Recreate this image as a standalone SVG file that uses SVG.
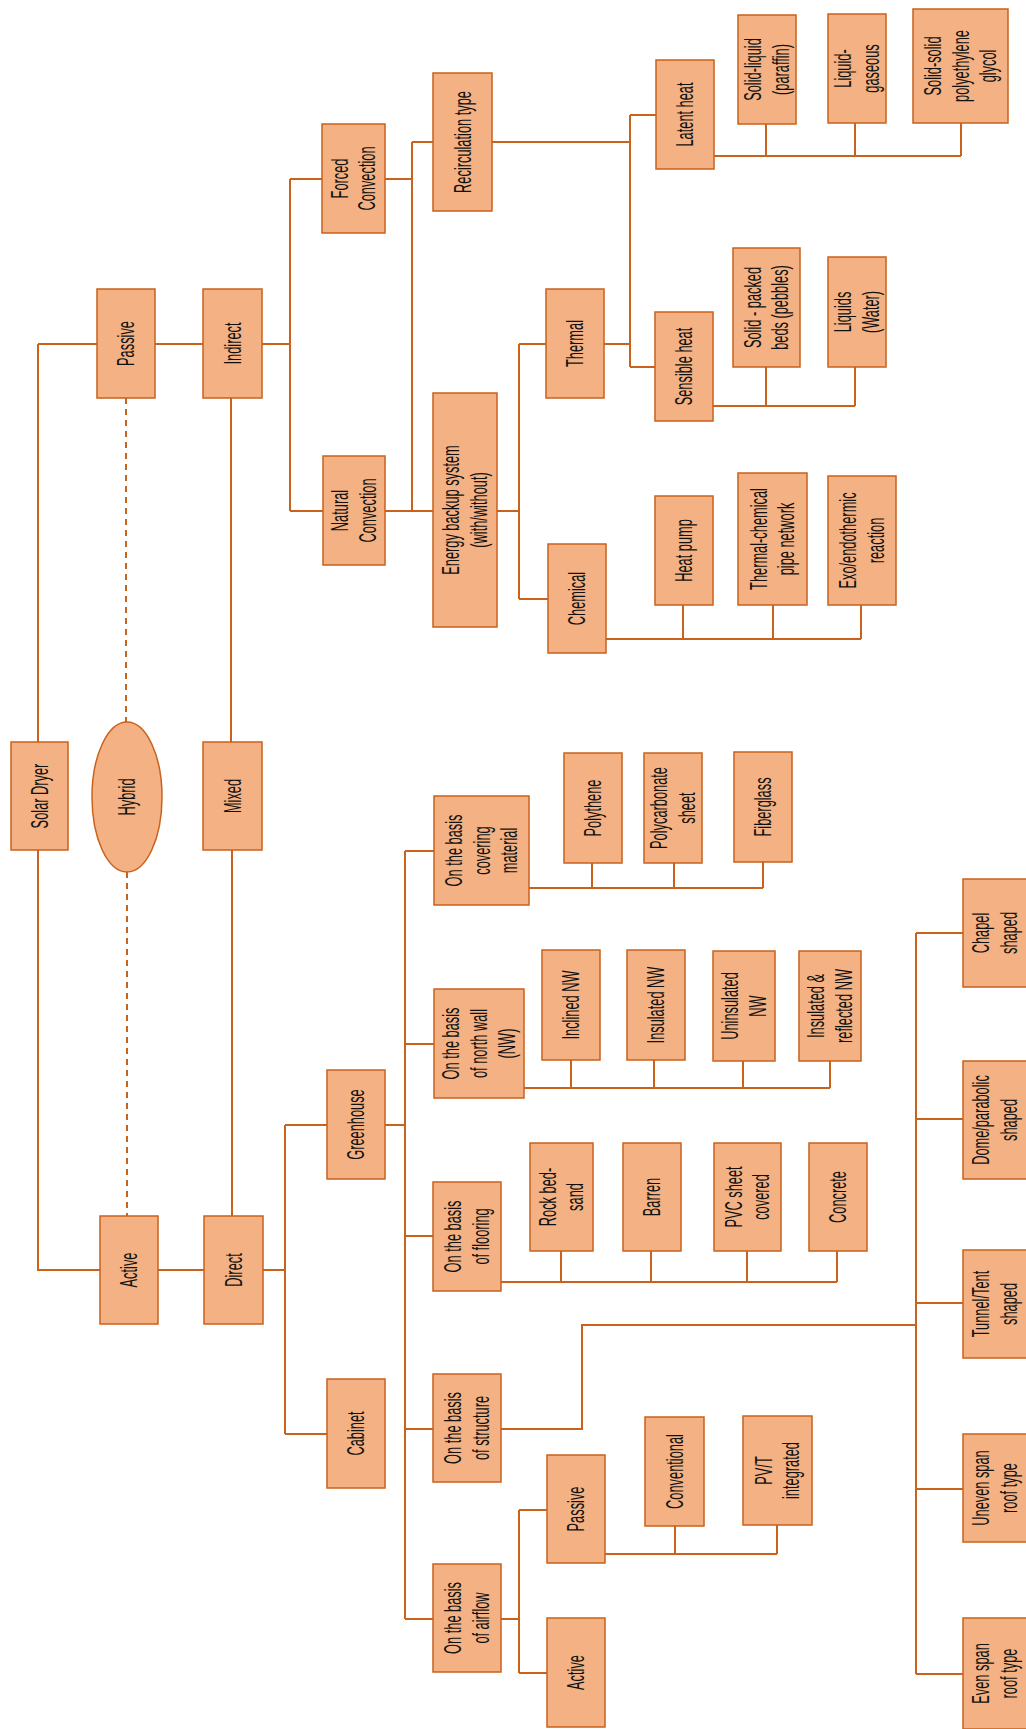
<svg xmlns="http://www.w3.org/2000/svg" width="1026" height="1729" viewBox="0 0 1026 1729">
<style>
.b{fill:#F4B183;stroke:#C9621C;stroke-width:1.5}
.c{fill:none;stroke:#C9621C;stroke-width:2}
.d{fill:none;stroke:#C9621C;stroke-width:2;stroke-dasharray:6 5}
text{font-family:"Liberation Sans",Arial,sans-serif;font-size:23px;fill:#111111;text-anchor:middle}
</style>
<rect width="1026" height="1729" fill="#ffffff"/>
<g id="connectors">
<path class="c" d="M38 344V1270H100M38 344H97"/>
<path class="c" d="M155 344H203M262 344H290M290 179V511M290 179H322M290 511H323"/>
<path class="c" d="M385 179H412M385 511H433M412 142V511M412 142H433"/>
<path class="c" d="M492 142H630M630 115V367M630 115H656M630 367H655M604 344H630"/>
<path class="c" d="M497 511H519M519 344V599M519 344H546M519 599H548"/>
<path class="c" d="M714 156H961M766 156V124M855 156V123M961 156V123"/>
<path class="c" d="M713 406H855M766 406V367M855 406V367"/>
<path class="c" d="M606 639H861M683 639V605M773 639V605M861 639V605"/>
<path class="c" d="M231 398V742M232 850V1216"/>
<path class="d" d="M126 398V722M127 872V1216"/>
<path class="c" d="M158 1270H204M263 1270H285M285 1125V1434M285 1125H327M285 1434H327"/>
<path class="c" d="M385 1125H405M405 851V1619M405 851H434M405 1044H434M405 1236H433M405 1429H433M405 1619H433"/>
<path class="c" d="M529 888H763M592 888V863M674 888V863M763 888V862"/>
<path class="c" d="M524 1088H830M571 1088V1060M654 1088V1060M743 1088V1061M830 1088V1061"/>
<path class="c" d="M501 1282H837M561 1282V1251M651 1282V1251M747 1282V1251M837 1282V1251"/>
<path class="c" d="M501 1429H582V1325H916M916 933V1674M916 933H963M916 1119H963M916 1303H963M916 1489H963M916 1674H963"/>
<path class="c" d="M501 1619H519M519 1510V1673M519 1510H547M519 1673H547"/>
<path class="c" d="M605 1554H777M675 1554V1526M777 1554V1525"/>
</g>
<g id="n-solar-dryer"><rect class="b" x="11" y="742" width="57" height="108"/><text transform="translate(39.5 796) rotate(-90) scale(0.557 1)"><tspan x="0" y="8">Solar Dryer</tspan></text></g>
<g id="n-hybrid"><ellipse class="b" cx="127" cy="797" rx="35" ry="75"/><text transform="translate(127 797) rotate(-90) scale(0.557 1)"><tspan x="0" y="8">Hybrid</tspan></text></g>
<g id="n-mixed"><rect class="b" x="203" y="742" width="59" height="108"/><text transform="translate(232.5 796) rotate(-90) scale(0.557 1)"><tspan x="0" y="8">Mixed</tspan></text></g>
<g id="n-passive"><rect class="b" x="97" y="289" width="58" height="109"/><text transform="translate(126 343.5) rotate(-90) scale(0.557 1)"><tspan x="0" y="8">Passive</tspan></text></g>
<g id="n-indirect"><rect class="b" x="203" y="289" width="59" height="109"/><text transform="translate(232.5 343.5) rotate(-90) scale(0.557 1)"><tspan x="0" y="8">Indirect</tspan></text></g>
<g id="n-active"><rect class="b" x="100" y="1216" width="58" height="108"/><text transform="translate(129 1270) rotate(-90) scale(0.557 1)"><tspan x="0" y="8">Active</tspan></text></g>
<g id="n-direct"><rect class="b" x="204" y="1216" width="59" height="108"/><text transform="translate(233.5 1270) rotate(-90) scale(0.557 1)"><tspan x="0" y="8">Direct</tspan></text></g>
<g id="n-forced"><rect class="b" x="322" y="124" width="63" height="109"/><text transform="translate(353.5 178.5) rotate(-90) scale(0.557 1)"><tspan x="0" y="-6">Forced</tspan><tspan x="0" y="22">Convection</tspan></text></g>
<g id="n-natural"><rect class="b" x="323" y="456" width="62" height="109"/><text transform="translate(354 510.5) rotate(-90) scale(0.557 1)"><tspan x="0" y="-6">Natural</tspan><tspan x="0" y="22">Convection</tspan></text></g>
<g id="n-recirculation"><rect class="b" x="433" y="73" width="59" height="138"/><text transform="translate(462.5 142) rotate(-90) scale(0.557 1)"><tspan x="0" y="8">Recirculation type</tspan></text></g>
<g id="n-energy-backup"><rect class="b" x="433" y="393" width="64" height="234"/><text transform="translate(465 510) rotate(-90) scale(0.557 1)"><tspan x="0" y="-6">Energy backup system</tspan><tspan x="0" y="22">(with/without)</tspan></text></g>
<g id="n-latent"><rect class="b" x="656" y="60" width="58" height="109"/><text transform="translate(685 114.5) rotate(-90) scale(0.557 1)"><tspan x="0" y="8">Latent heat</tspan></text></g>
<g id="n-solid-liquid"><rect class="b" x="738" y="15" width="58" height="109"/><text transform="translate(767 69.5) rotate(-90) scale(0.557 1)"><tspan x="0" y="-6">Solid-liquid</tspan><tspan x="0" y="22">(paraffin)</tspan></text></g>
<g id="n-liquid-gaseous"><rect class="b" x="828" y="14" width="58" height="109"/><text transform="translate(857 68.5) rotate(-90) scale(0.557 1)"><tspan x="0" y="-6">Liquid-</tspan><tspan x="0" y="22">gaseous</tspan></text></g>
<g id="n-solid-solid"><rect class="b" x="913" y="9" width="95" height="114"/><text transform="translate(960.5 66) rotate(-90) scale(0.557 1)"><tspan x="0" y="-20">Solid-solid</tspan><tspan x="0" y="8">polyethylene</tspan><tspan x="0" y="36">glycol</tspan></text></g>
<g id="n-thermal"><rect class="b" x="546" y="289" width="58" height="109"/><text transform="translate(575 343.5) rotate(-90) scale(0.557 1)"><tspan x="0" y="8">Thermal</tspan></text></g>
<g id="n-sensible"><rect class="b" x="655" y="312" width="58" height="109"/><text transform="translate(684 366.5) rotate(-90) scale(0.557 1)"><tspan x="0" y="8">Sensible heat</tspan></text></g>
<g id="n-packed-beds"><rect class="b" x="733" y="248" width="67" height="119"/><text transform="translate(766.5 307.5) rotate(-90) scale(0.557 1)"><tspan x="0" y="-6">Solid - packed</tspan><tspan x="0" y="22">beds (pebbles)</tspan></text></g>
<g id="n-liquids"><rect class="b" x="828" y="257" width="58" height="110"/><text transform="translate(857 312) rotate(-90) scale(0.557 1)"><tspan x="0" y="-6">Liquids</tspan><tspan x="0" y="22">(Water)</tspan></text></g>
<g id="n-chemical"><rect class="b" x="548" y="544" width="58" height="109"/><text transform="translate(577 598.5) rotate(-90) scale(0.557 1)"><tspan x="0" y="8">Chemical</tspan></text></g>
<g id="n-heat-pump"><rect class="b" x="655" y="496" width="58" height="109"/><text transform="translate(684 550.5) rotate(-90) scale(0.557 1)"><tspan x="0" y="8">Heat pump</tspan></text></g>
<g id="n-thermal-chemical"><rect class="b" x="738" y="473" width="69" height="132"/><text transform="translate(772.5 539) rotate(-90) scale(0.557 1)"><tspan x="0" y="-6">Thermal-chemical</tspan><tspan x="0" y="22">pipe network</tspan></text></g>
<g id="n-exo"><rect class="b" x="828" y="476" width="68" height="129"/><text transform="translate(862 540.5) rotate(-90) scale(0.557 1)"><tspan x="0" y="-6">Exo/endothermic</tspan><tspan x="0" y="22">reaction</tspan></text></g>
<g id="n-greenhouse"><rect class="b" x="327" y="1070" width="58" height="109"/><text transform="translate(356 1124.5) rotate(-90) scale(0.557 1)"><tspan x="0" y="8">Greenhouse</tspan></text></g>
<g id="n-cabinet"><rect class="b" x="327" y="1379" width="58" height="109"/><text transform="translate(356 1433.5) rotate(-90) scale(0.557 1)"><tspan x="0" y="8">Cabinet</tspan></text></g>
<g id="n-covering"><rect class="b" x="434" y="796" width="95" height="109"/><text transform="translate(481.5 850.5) rotate(-90) scale(0.557 1)"><tspan x="0" y="-20">On the basis</tspan><tspan x="0" y="8">covering</tspan><tspan x="0" y="36">material</tspan></text></g>
<g id="n-north-wall"><rect class="b" x="434" y="989" width="90" height="109"/><text transform="translate(479 1043.5) rotate(-90) scale(0.557 1)"><tspan x="0" y="-20">On the basis</tspan><tspan x="0" y="8">of north wall</tspan><tspan x="0" y="36">(NW)</tspan></text></g>
<g id="n-flooring"><rect class="b" x="433" y="1182" width="68" height="109"/><text transform="translate(467 1236.5) rotate(-90) scale(0.557 1)"><tspan x="0" y="-6">On the basis</tspan><tspan x="0" y="22">of flooring</tspan></text></g>
<g id="n-structure"><rect class="b" x="433" y="1374" width="68" height="108"/><text transform="translate(467 1428) rotate(-90) scale(0.557 1)"><tspan x="0" y="-6">On the basis</tspan><tspan x="0" y="22">of structure</tspan></text></g>
<g id="n-airflow"><rect class="b" x="433" y="1564" width="68" height="108"/><text transform="translate(467 1618) rotate(-90) scale(0.557 1)"><tspan x="0" y="-6">On the basis</tspan><tspan x="0" y="22">of airflow</tspan></text></g>
<g id="n-polythene"><rect class="b" x="564" y="753" width="58" height="110"/><text transform="translate(593 808) rotate(-90) scale(0.557 1)"><tspan x="0" y="8">Polythene</tspan></text></g>
<g id="n-polycarbonate"><rect class="b" x="644" y="753" width="58" height="110"/><text transform="translate(673 808) rotate(-90) scale(0.557 1)"><tspan x="0" y="-6">Polycarbonate</tspan><tspan x="0" y="22">sheet</tspan></text></g>
<g id="n-fiberglass"><rect class="b" x="734" y="752" width="58" height="110"/><text transform="translate(763 807) rotate(-90) scale(0.557 1)"><tspan x="0" y="8">Fiberglass</tspan></text></g>
<g id="n-inclined"><rect class="b" x="542" y="950" width="58" height="110"/><text transform="translate(571 1005) rotate(-90) scale(0.557 1)"><tspan x="0" y="8">Inclined NW</tspan></text></g>
<g id="n-insulated"><rect class="b" x="627" y="950" width="58" height="110"/><text transform="translate(656 1005) rotate(-90) scale(0.557 1)"><tspan x="0" y="8">Insulated NW</tspan></text></g>
<g id="n-uninsulated"><rect class="b" x="713" y="951" width="62" height="110"/><text transform="translate(744 1006) rotate(-90) scale(0.557 1)"><tspan x="0" y="-6">Uninsulated</tspan><tspan x="0" y="22">NW</tspan></text></g>
<g id="n-insulated-reflected"><rect class="b" x="799" y="951" width="62" height="110"/><text transform="translate(830 1006) rotate(-90) scale(0.557 1)"><tspan x="0" y="-6">Insulated &amp;</tspan><tspan x="0" y="22">reflected NW</tspan></text></g>
<g id="n-rock-bed"><rect class="b" x="530" y="1143" width="63" height="108"/><text transform="translate(561.5 1197) rotate(-90) scale(0.557 1)"><tspan x="0" y="-6">Rock bed-</tspan><tspan x="0" y="22">sand</tspan></text></g>
<g id="n-barren"><rect class="b" x="623" y="1143" width="58" height="108"/><text transform="translate(652 1197) rotate(-90) scale(0.557 1)"><tspan x="0" y="8">Barren</tspan></text></g>
<g id="n-pvc"><rect class="b" x="714" y="1143" width="67" height="108"/><text transform="translate(747.5 1197) rotate(-90) scale(0.557 1)"><tspan x="0" y="-6">PVC sheet</tspan><tspan x="0" y="22">covered</tspan></text></g>
<g id="n-concrete"><rect class="b" x="809" y="1143" width="58" height="108"/><text transform="translate(838 1197) rotate(-90) scale(0.557 1)"><tspan x="0" y="8">Concrete</tspan></text></g>
<g id="n-airflow-passive"><rect class="b" x="547" y="1455" width="58" height="108"/><text transform="translate(576 1509) rotate(-90) scale(0.557 1)"><tspan x="0" y="8">Passive</tspan></text></g>
<g id="n-airflow-active"><rect class="b" x="547" y="1618" width="58" height="109"/><text transform="translate(576 1672.5) rotate(-90) scale(0.557 1)"><tspan x="0" y="8">Active</tspan></text></g>
<g id="n-conventional"><rect class="b" x="645" y="1417" width="59" height="109"/><text transform="translate(674.5 1471.5) rotate(-90) scale(0.557 1)"><tspan x="0" y="8">Conventional</tspan></text></g>
<g id="n-pvt"><rect class="b" x="743" y="1416" width="69" height="109"/><text transform="translate(777.5 1470.5) rotate(-90) scale(0.557 1)"><tspan x="0" y="-6">PV/T</tspan><tspan x="0" y="22">integrated</tspan></text></g>
<g id="n-chapel"><rect class="b" x="963" y="879" width="64" height="108"/><text transform="translate(995 933) rotate(-90) scale(0.557 1)"><tspan x="0" y="-6">Chapel</tspan><tspan x="0" y="22">shaped</tspan></text></g>
<g id="n-dome"><rect class="b" x="963" y="1061" width="64" height="118"/><text transform="translate(995 1120) rotate(-90) scale(0.557 1)"><tspan x="0" y="-6">Dome/parabolic</tspan><tspan x="0" y="22">shaped</tspan></text></g>
<g id="n-tunnel"><rect class="b" x="963" y="1250" width="64" height="108"/><text transform="translate(995 1304) rotate(-90) scale(0.557 1)"><tspan x="0" y="-6">Tunnel/Tent</tspan><tspan x="0" y="22">shaped</tspan></text></g>
<g id="n-uneven"><rect class="b" x="963" y="1434" width="64" height="108"/><text transform="translate(995 1488) rotate(-90) scale(0.557 1)"><tspan x="0" y="-6">Uneven span</tspan><tspan x="0" y="22">roof type</tspan></text></g>
<g id="n-even"><rect class="b" x="963" y="1618" width="64" height="111"/><text transform="translate(995 1673.5) rotate(-90) scale(0.557 1)"><tspan x="0" y="-6">Even span</tspan><tspan x="0" y="22">roof type</tspan></text></g>
</svg>
